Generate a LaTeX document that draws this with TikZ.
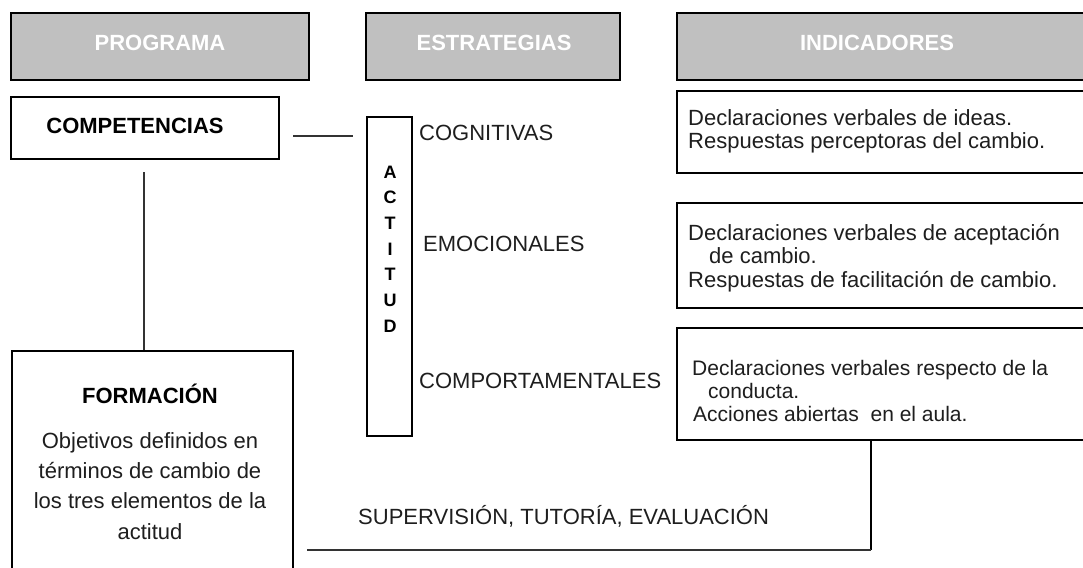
\documentclass[tikz,border=0pt]{standalone}
\usepackage{fontspec}
\setmainfont{Liberation Sans}
\definecolor{hdrgray}{HTML}{C0C0C0}
\definecolor{txt}{HTML}{1E1E1E}
\definecolor{lnk}{HTML}{333333}
\begin{document}
\begin{tikzpicture}[x=1pt,y=-1pt,
  hdr/.style={draw=black, line width=2.5pt, fill=hdrgray, inner sep=0pt, minimum height=67pt},
  hdrtext/.style={inner sep=0pt, anchor=base, text=white, font=\fontsize{22}{26}\selectfont\bfseries},
  boxw/.style={draw=black, line width=2pt, fill=white, inner sep=0pt},
  capl/.style={inner sep=0pt, anchor=base west, text=txt, font=\fontsize{22}{26}\selectfont},
  bold/.style={inner sep=0pt, anchor=base, text=black, font=\fontsize{22}{26}\selectfont\bfseries},
  ln/.style={inner sep=0pt, anchor=base west, text=txt, font=\fontsize{22}{26}\selectfont},
  lnsmall/.style={inner sep=0pt, anchor=base west, text=txt, font=\fontsize{21}{25}\selectfont},
  lnc/.style={inner sep=0pt, anchor=base, text=txt, font=\fontsize{22}{26}\selectfont},
  thinconn/.style={line width=1.2pt, draw=lnk},
  thickconn/.style={line width=2pt, draw=black},
  midconn/.style={line width=1.5pt, draw=lnk}
]
\useasboundingbox (0,0) rectangle (1083,567);

% headers
\node[hdr, minimum width=298pt] (prog) at (160,46.5) {};
\node[hdrtext] (progt) at (160,51) {PROGRAMA};
\node[hdr, minimum width=254pt] (estr) at (493,46.5) {};
\node[hdrtext] (estrt) at (494,51) {ESTRATEGIAS};
\node[hdr, minimum width=480pt] (ind) at (917,46.5) {};
\node[hdrtext] (indt) at (877,51) {INDICADORES};

% programa column
\node[boxw, minimum width=268pt, minimum height=62pt] (comp) at (145,128) {};
\node[bold] (compt) at (135,133) {COMPETENCIAS};
\node[boxw, minimum width=281pt, minimum height=260pt] (form) at (152.5,481) {};
\node[bold] (formt) at (150,403) {FORMACIÓN};
\node[lnc] (f1) at (150,448) {Objetivos definidos en};
\node[lnc] (f2) at (150,478) {términos de cambio de};
\node[lnc] (f3) at (150,508) {los tres elementos de la};
\node[lnc] (f4) at (150,539) {actitud};

% actitud
\node[boxw, minimum width=45pt, minimum height=319pt] (act) at (389.5,276.5) {};
\node[inner sep=0pt, align=center, text=black, font=\fontsize{18}{25.7}\selectfont\bfseries] (actt) at (390,249) {A\\C\\T\\I\\T\\U\\D};
\node[capl] (cog) at (419,140) {COGNITIVAS};
\node[capl] (emo) at (423,251) {EMOCIONALES};
\node[capl] (cpt) at (419,388) {COMPORTAMENTALES};

% indicadores
\node[boxw, minimum width=480pt, minimum height=82pt] (ind1) at (917,132) {};
\node[ln] (i11) at (688,125) {Declaraciones verbales de ideas.};
\node[ln] (i12) at (688,148) {Respuestas perceptoras del cambio.};

\node[boxw, minimum width=480pt, minimum height=105pt] (ind2) at (917,255.5) {};
\node[ln] (i21) at (688,240) {Declaraciones verbales de aceptación};
\node[ln] (i22) at (709,263) {de cambio.};
\node[ln] (i23) at (688,287) {Respuestas de facilitación de cambio.};

\node[boxw, minimum width=480pt, minimum height=112pt] (ind3) at (917,384) {};
\node[lnsmall] (i31) at (692,375) {Declaraciones verbales respecto de la};
\node[lnsmall] (i32) at (708,398) {conducta.};
\node[lnsmall] (i33) at (693,421) {Acciones abiertas\ \ en el aula.};

% supervision
\node[capl] (sup) at (358,524) {SUPERVISIÓN, TUTORÍA, EVALUACIÓN};

% connectors
\coordinate (c1) at (293,136);
\coordinate (c2) at (353,136);
\draw[thinconn] (c1) -- (c2);
\coordinate (c3) at (144,172);
\draw[thinconn] (c3) -- (c3 |- form.north);
\coordinate (b1) at (871,550);
\coordinate (b2) at (307,550);
\draw[thickconn] (ind3.south -| b1) -- (b1);
\draw[midconn] (b1) -- (b2);
\end{tikzpicture}
\end{document}
